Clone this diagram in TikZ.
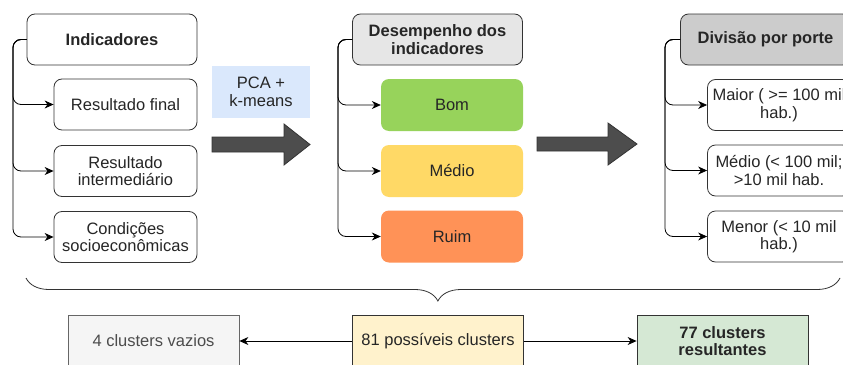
\documentclass[tikz,border=0pt]{standalone}
\usepackage{fontspec}
\setmainfont{Liberation Sans}
\usetikzlibrary{positioning,arrows.meta,decorations.pathreplacing}
\definecolor{edgegray}{HTML}{333333}
\definecolor{arrowgray}{HTML}{4D4D4D}
\definecolor{pcablue}{HTML}{DAE8FC}
\definecolor{desgray}{HTML}{E6E6E6}
\definecolor{divgray}{HTML}{CCCCCC}
\definecolor{bomgreen}{HTML}{97D35B}
\definecolor{medyellow}{HTML}{FFD966}
\definecolor{ruimorange}{HTML}{FF9257}
\definecolor{vazfill}{HTML}{F5F5F5}
\definecolor{vazdraw}{HTML}{666666}
\definecolor{posfill}{HTML}{FFF2CC}
\definecolor{resfill}{HTML}{D5E8D4}

\begin{document}
\begin{tikzpicture}[x=1pt, y=-1pt, on grid,
    every node/.style={font=\fontsize{16.5}{17.5}\selectfont, align=center, text=black!85},
    hdr/.style={draw=edgegray, line width=0.8pt, rounded corners=8pt,
        minimum width=170pt, minimum height=51pt,
        font=\fontsize{16.5}{17.5}\selectfont\bfseries},
    item/.style={draw=edgegray, line width=0.8pt, rounded corners=8pt,
        minimum width=143pt, minimum height=51pt, inner sep=2pt},
    lvl/.style={rounded corners=8pt, minimum width=142pt, minimum height=52pt},
    cl/.style={draw=edgegray, line width=0.8pt, minimum width=171pt, minimum height=52pt},
    conn/.style={line width=0.8pt, rounded corners=8pt, -{Stealth[length=9pt,width=8pt]}},
    bigarrow/.style={fill=arrowgray, draw=edgegray, line width=0.8pt}]

    \useasboundingbox (0,0) rectangle (843,364);
    \clip (0,0) rectangle (843,364);
    \fill[white] (0,0) rectangle (843,364);

    % indicadores
    \node[hdr] (ind) at (112,39.5) {Indicadores};
    \node[item] (rf) [below right=65pt and 13.5pt of ind] {Resultado final};
    \node[item] (ri) [below=66.5pt of rf] {Resultado\\intermediário};
    \node[item] (cs) [below=66pt of ri] {Condições\\socioeconômicas};
    \coordinate (b1) at (13,0);
    \foreach \c in {rf,ri,cs}
        \draw[conn] (ind.west) -- (ind.west -| b1) |- (\c.west);

    % PCA + k-means
    \node[fill=pcablue, minimum width=98pt, minimum height=52pt] (pca) at (261,92) {PCA +\\k-means};
    \draw[bigarrow] (212,137) -- (284,137) -- (284,124) -- (310,144.5)
        -- (284,165) -- (284,152) -- (212,152) -- cycle;

    % desempenho
    \node[hdr, fill=desgray] (des) at (437.5,39.5) {Desempenho dos\\indicadores};
    \node[lvl, fill=bomgreen] (bom) [below right=65.5pt and 14.5pt of des] {Bom};
    \node[lvl, fill=medyellow] (med) [below=66pt of bom] {Médio};
    \node[lvl, fill=ruimorange] (ruim) [below=65.5pt of med] {Ruim};
    \coordinate (b2) at (338,0);
    \foreach \c in {bom,med,ruim}
        \draw[conn] (des.west) -- (des.west -| b2) |- (\c.west);

    \draw[bigarrow] (537,137) -- (608,137) -- (608,123) -- (637,144)
        -- (608,165) -- (608,151) -- (537,151) -- cycle;

    % porte
    \node[hdr, fill=divgray] (div) at (765.5,39.5) {Divisão por porte};
    \node[item] (mai) [below right=65.5pt and 13.5pt of div] {Maior ( >= 100 mil\\hab.)};
    \node[item] (mdo) [below=65.5pt of mai] {Médio (< 100 mil;\\>10 mil hab.};
    \node[item] (men) [below=66pt of mdo] {Menor (< 10 mil\\hab.)};
    \coordinate (b3) at (665,0);
    \foreach \c in {mai,mdo,men}
        \draw[conn] (div.west) -- (div.west -| b3) |- (\c.west);

    % chave
    \coordinate (bl) at (26,278);
    \coordinate (br) at (840,278);
    \draw[edgegray, line width=0.8pt, decorate,
        decoration={brace, mirror, amplitude=23pt, aspect=0.506}] (bl) -- (br);

    % clusters
    \node[cl, fill=vazfill, draw=vazdraw, text=black!70] (vaz) at (153.5,341) {4 clusters vazios};
    \node[cl, fill=posfill] (pos) at (438,341) {81 possíveis clusters};
    \node[cl, fill=resfill, font=\fontsize{16.5}{17.5}\selectfont\bfseries] (res) at (722.5,341) {77 clusters\\resultantes};
    \draw[conn] (pos) -- (vaz);
    \draw[conn] (pos) -- (res);

\end{tikzpicture}
\end{document}
